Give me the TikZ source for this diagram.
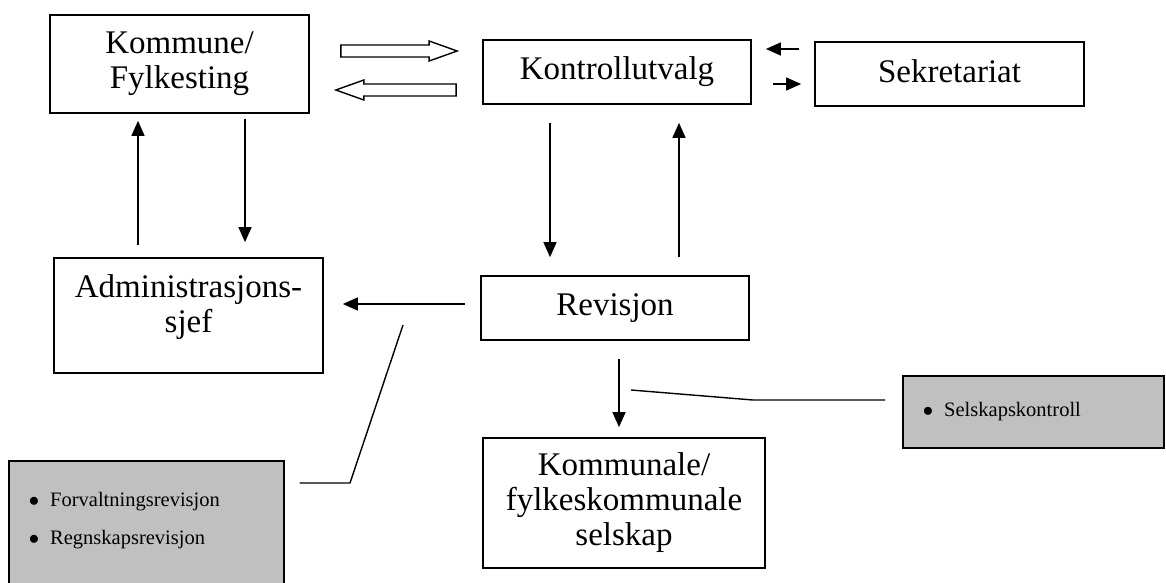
\documentclass[tikz,border=0pt]{standalone}
\usepackage{fontspec}
\setmainfont{Liberation Serif}
\usetikzlibrary{arrows.meta, calc}
\definecolor{notegray}{HTML}{C0C0C0}

% hollow block arrow between two points on one level
\newcommand{\hollowarrow}[2]{%
  \draw[hollow] let \p1=#1, \p2=#2, \n1={sign(\x2-\x1)*28} in
    (\x1,\y1+6pt) -- ({\x2-(\n1)*1pt},\y1+6pt) -- ({\x2-(\n1)*1pt},\y1+10pt)
    -- (\x2,\y1) -- ({\x2-(\n1)*1pt},\y1-10pt) -- ({\x2-(\n1)*1pt},\y1-6pt)
    -- (\x1,\y1-6pt) -- cycle;}
\newcommand{\bul}{$\bullet$\hspace{11pt}}

\begin{document}
\begin{tikzpicture}[x=1pt, y=-1pt,
  box/.style={draw, line width=1.7pt, inner sep=0pt, align=center,
              font=\fontsize{33}{35}\selectfont},
  note/.style={draw, line width=1.7pt, fill=notegray, inner xsep=20pt,
               align=left, font=\fontsize{20.5}{38}\selectfont},
  arr/.style={line width=1.4pt, -{Triangle[length=15pt, width=13pt]}},
  hollow/.style={line width=1.4pt, fill=white},
  callout/.style={line width=1.4pt}]
  \useasboundingbox (0,0) rectangle (1166,583);
  \clip (0,0) rectangle (1166,583);

  % boxes
  \node[box, minimum width=259pt, minimum height=98pt] (kommune) at (179.5,64) {Kommune/\\Fylkesting};
  \node[box, minimum width=268pt, minimum height=64pt] (kontroll) at (617,72) {Kontrollutvalg};
  \node[box, minimum width=269pt, minimum height=64pt, text depth=5pt] (sekretariat) at (949.5,74) {Sekretariat};
  \node[box, minimum width=269pt, minimum height=115pt] (admin) at (188.5,315.5) {Administrasjons-\\sjef\\[-12pt]\mbox{}};
  \node[box, minimum width=268pt, minimum height=64pt] (revisjon) at (615,308) {Revisjon};
  \node[box, minimum width=282pt, minimum height=130pt] (selskap) at (624,503) {Kommunale/\\fylkeskommunale\\selskap};

  % grey notes
  \node[note, anchor=north west, text width=235pt, inner ysep=31pt] (revnote) at (8,460)
    {\bul Forvaltningsrevisjon\\\bul Regnskapsrevisjon\\[30pt]\mbox{}};
  \node[note, anchor=west, text width=221pt, minimum height=72pt] (selnote) at (902,412)
    {\bul Selskapskontroll};

  % levels and columns of the connectors
  \coordinate (hr) at (0,51);
  \coordinate (hl) at (0,90);
  \coordinate (sl) at (0,49);
  \coordinate (sr) at (0,84);
  \coordinate (kdown) at (245,0);
  \coordinate (kup) at (138,0);
  \coordinate (rdown) at (550,0);
  \coordinate (rup) at (679,0);
  \coordinate (radm) at (0,304);
  \coordinate (sdown) at (619,0);
  \coordinate (lbend) at (350,483);
  \coordinate (lend) at (403,325);
  \coordinate (rbend) at (753,400);
  \coordinate (rend) at (631,390);

  % block arrows
  \hollowarrow{($(kommune.east |- hr)+(31,0)$)}{($(kontroll.west |- hr)+(-25,0)$)}
  \hollowarrow{($(kontroll.west |- hl)+(-26,0)$)}{($(kommune.east |- hl)+(26,0)$)}

  % arrows
  \draw[arr, shorten <=15pt, shorten >=14pt] (sekretariat.west |- sl) -- (kontroll.east |- sl);
  \draw[arr, shorten <=21pt, shorten >=13pt] (kontroll.east |- sr) -- (sekretariat.west |- sr);
  \draw[arr, shorten <=5pt, shorten >=15pt] (kommune.south -| kdown) -- (admin.north -| kdown);
  \draw[arr, shorten <=12pt, shorten >=7pt] (admin.north -| kup) -- (kommune.south -| kup);
  \draw[arr, shorten <=18pt, shorten >=18pt] (kontroll.south -| rdown) -- (revisjon.north -| rdown);
  \draw[arr, shorten <=18pt, shorten >=18pt] (revisjon.north -| rup) -- (kontroll.south -| rup);
  \draw[arr, shorten <=15pt, shorten >=19pt] (revisjon.west |- radm) -- (admin.east |- radm);
  \draw[arr, shorten <=18pt, shorten >=10pt] (revisjon.south -| sdown) -- (selskap.north -| sdown);

  % callout lines
  \draw[callout, shorten <=15pt] (revnote.east |- lbend) -- (lbend) -- (lend);
  \draw[callout, shorten <=17pt] (selnote.west |- rbend) -- (rbend) -- (rend);
\end{tikzpicture}
\end{document}
